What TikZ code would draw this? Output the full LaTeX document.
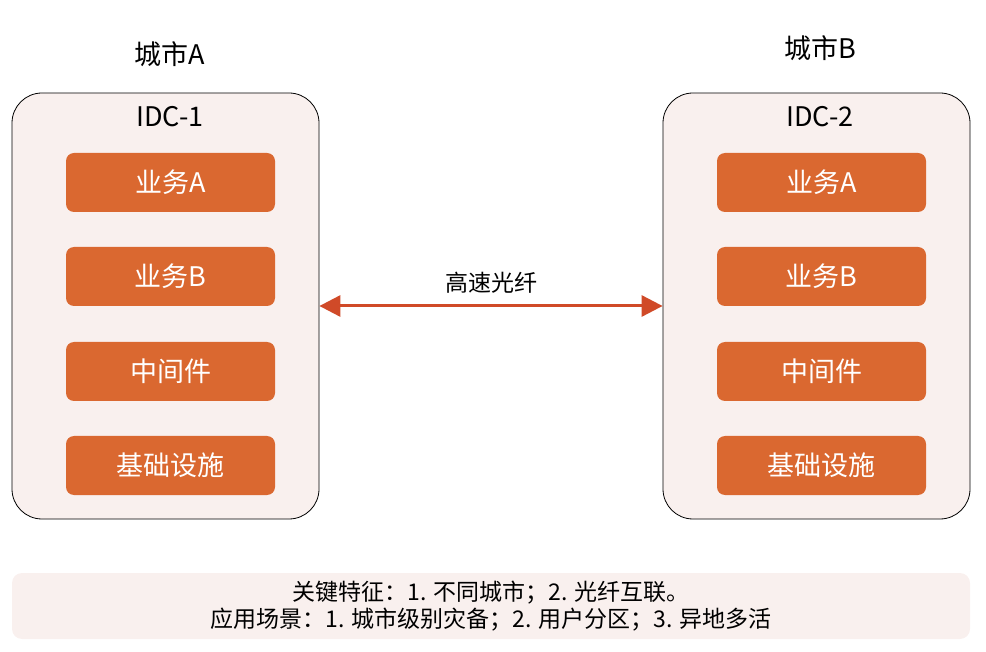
\documentclass[tikz,border=0pt]{standalone}
\usepackage{fontspec}
\newfontfamily\cjk{Noto Sans CJK SC}
\usetikzlibrary{arrows.meta}
\definecolor{boxfill}{HTML}{F9F0EE}
\definecolor{svc}{HTML}{DA6830}
\definecolor{link}{HTML}{D04A28}
\tikzset{
  idc/.style={draw=black, line width=0.8pt, fill=boxfill, rounded corners=30pt, minimum width=307pt, minimum height=426pt},
  svcbox/.style={fill=svc, rounded corners=8pt, minimum width=209pt, minimum height=59pt, text=white, font=\cjk\fontsize{27}{30}\selectfont},
  title/.style={font=\cjk\fontsize{27}{30}\selectfont, text=black},
  lbl/.style={font=\cjk\fontsize{23}{26}\selectfont, text=black},
  note/.style={fill=boxfill, rounded corners=10pt, minimum width=958pt, minimum height=66pt, align=center, font=\cjk\fontsize{23}{27}\selectfont}
}
\begin{document}
\begin{tikzpicture}[x=1pt,y=-1pt]
\useasboundingbox (0,0) rectangle (986,652);
\node[title] (cityA) at (170,54) {城市A};
\node[title] (cityB) at (820,48) {城市B};
\node[idc] (idc1) at (165.5,306) {};
\node[idc] (idc2) at (816.5,306) {};
\node[title] (idc1t) at (170,117) {IDC-1};
\node[title] (idc2t) at (820,117) {IDC-2};
\node[svcbox] (a1) at (170.5,182.5) {业务A};
\node[svcbox] (a2) at (170.5,276.5) {业务B};
\node[svcbox] (a3) at (170.5,371.5) {中间件};
\node[svcbox] (a4) at (170.5,465.5) {基础设施};
\node[svcbox] (b1) at (821.5,182.5) {业务A};
\node[svcbox] (b2) at (821.5,276.5) {业务B};
\node[svcbox] (b3) at (821.5,371.5) {中间件};
\node[svcbox] (b4) at (821.5,465.5) {基础设施};
\draw[link, line width=3pt, {Triangle[length=21pt,width=21pt]}-{Triangle[length=21pt,width=21pt]}] (idc1.east |- 0,306) -- (idc2.west |- 0,306) node[midway, above=8pt, lbl] (fiber) {高速光纤};
\node[note] (note) at (491,606) {关键特征：1. 不同城市；2. 光纤互联。\\应用场景：1. 城市级别灾备；2. 用户分区；3. 异地多活};
\end{tikzpicture}
\end{document}
